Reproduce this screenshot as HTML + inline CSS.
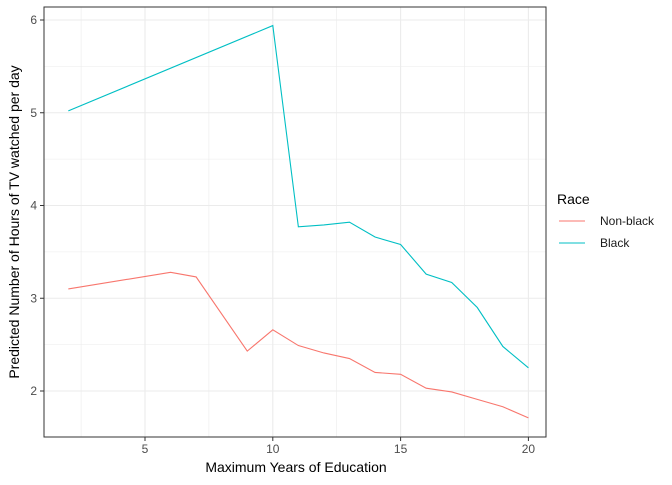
<!DOCTYPE html>
<html><head><meta charset="utf-8"><style>
body{margin:0;background:#fff;font-family:"Liberation Sans",sans-serif}
svg text{font-family:"Liberation Sans",sans-serif}
</style></head><body>
<svg id="chart" width="672" height="480" xmlns="http://www.w3.org/2000/svg">
<rect width="672" height="480" fill="#fff"/>
<g id="grid"></g><g id="lines"></g><g id="axes"></g>
<text x="296" y="472" font-size="14" text-anchor="middle" fill="#000">Maximum Years of Education</text>
<text transform="translate(19,222) rotate(-90)" font-size="14" text-anchor="middle" fill="#000">Predicted Number of Hours of TV watched per day</text>
<g>
<text x="557" y="204" font-size="14" fill="#000">Race</text>
<line x1="559" x2="585" y1="221" y2="221" stroke="#F8766D" stroke-width="1.1"/>
<text x="600" y="225" font-size="12" fill="#1a1a1a">Non-black</text>
<line x1="559" x2="585" y1="243" y2="243" stroke="#00BFC4" stroke-width="1.1"/>
<text x="600" y="247" font-size="12" fill="#1a1a1a">Black</text>
</g>
</svg>
<script>
const nonBlackX=[2,6,7,9,10,11,12,13,14,15,16,17,18,19,20];
const nonBlackY=[3.10,3.28,3.23,2.43,2.66,2.49,2.41,2.35,2.20,2.18,2.03,1.99,1.91,1.83,1.71];
const blackX=[2,10,11,12,13,14,15,16,17,18,19,20];
const blackY=[5.02,5.94,3.77,3.79,3.82,3.66,3.58,3.26,3.17,2.90,2.48,2.25];
const xTicks=[5,10,15,20];
const yTicks=[2,3,4,5,6];
const NS="http://www.w3.org/2000/svg";
const L=44,R=546,T=7,B=437;
const sx=v=>145+(v-5)*25.56;
const sy=v=>391-(v-2)*92.75;
function mk(tag,attrs,parent){const e=document.createElementNS(NS,tag);for(const k in attrs)e.setAttribute(k,attrs[k]);document.getElementById(parent).appendChild(e);return e;}
// panel
const bg=mk('rect',{x:L,y:T,width:R-L,height:B-T,fill:'#fff'},'grid');


// minor grid
for(let v=2.5;v<=20;v+=5){const g=mk('line',{x1:sx(v),x2:sx(v),y1:T,y2:B,stroke:'#ebebeb','stroke-width':0.6},'grid');

}
for(let v=1.5;v<=6.5;v+=1){const y=sy(v);if(y<T||y>B)continue;const g=mk('line',{x1:L,x2:R,y1:y,y2:y,stroke:'#ebebeb','stroke-width':0.6},'grid');

}
xTicks.forEach(v=>{const g=mk('line',{x1:sx(v),x2:sx(v),y1:T,y2:B,stroke:'#ebebeb','stroke-width':1.1},'grid');


const t=mk('line',{x1:sx(v),x2:sx(v),y1:B,y2:B+4,stroke:'#333','stroke-width':1},'axes');


const tx=mk('text',{x:sx(v),y:B+16,'font-size':12,'text-anchor':'middle',fill:'#4d4d4d'},'axes');tx.textContent=v;

});
yTicks.forEach(v=>{const g=mk('line',{x1:L,x2:R,y1:sy(v),y2:sy(v),stroke:'#ebebeb','stroke-width':1.1},'grid');


const t=mk('line',{x1:L-4,x2:L,y1:sy(v),y2:sy(v),stroke:'#333','stroke-width':1},'axes');


const tx=mk('text',{x:L-7,y:sy(v)+4,'font-size':12,'text-anchor':'end',fill:'#4d4d4d'},'axes');tx.textContent=v;

});
const fr=mk('rect',{x:L,y:T,width:R-L,height:B-T,fill:'none',stroke:'#333','stroke-width':1},'axes');


function line(xs,ys,c,name){const p=mk('polyline',{points:xs.map((x,i)=>sx(x)+','+sy(ys[i])).join(' '),fill:'none',stroke:c,'stroke-width':1.1},'lines');

}
line(nonBlackX,nonBlackY,'#F8766D','series-non-black');
line(blackX,blackY,'#00BFC4','series-black');
</script>
</body></html>
